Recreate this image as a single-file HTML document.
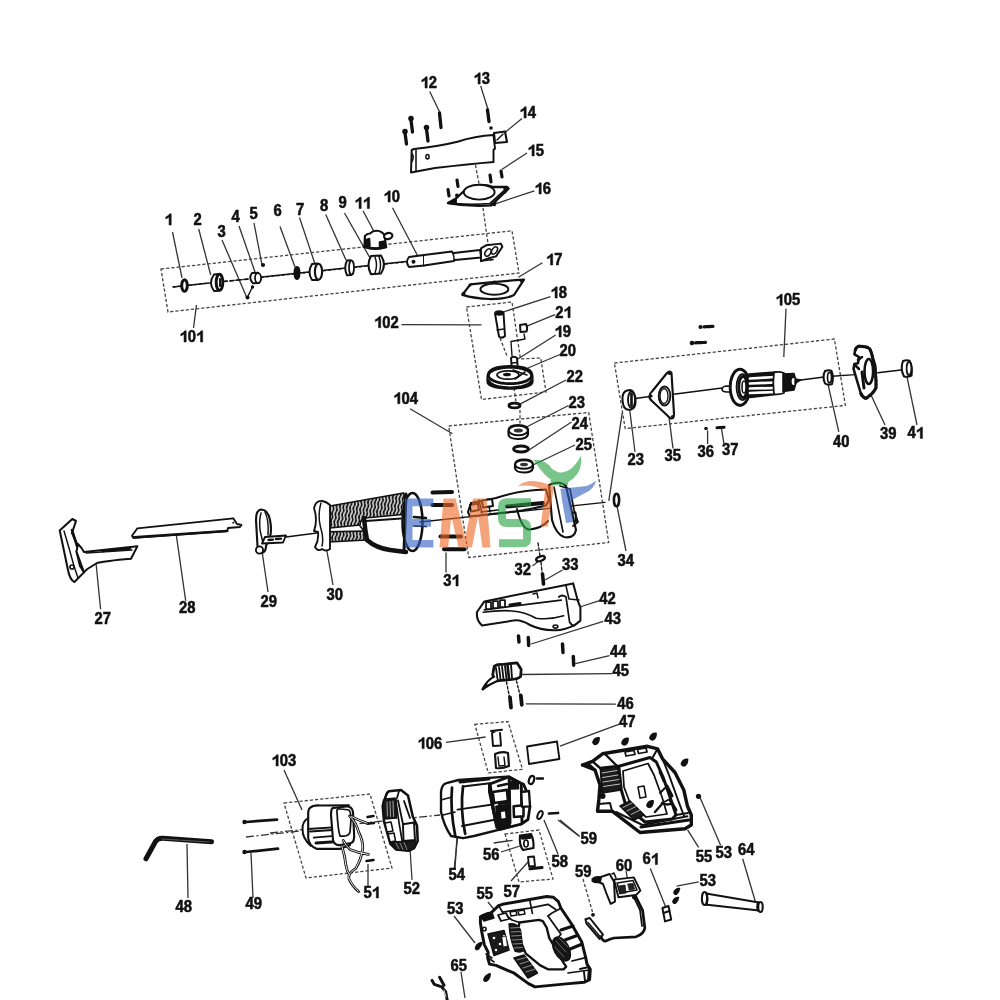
<!DOCTYPE html>
<html><head><meta charset="utf-8"><style>
html,body{margin:0;padding:0;background:#fff;}
svg{display:block;filter:blur(0.3px);}
.lab text{font-family:"Liberation Sans",sans-serif;font-weight:bold;font-size:15.6px;fill:#111;stroke:#111;stroke-width:0.55px;}
.lab path{fill:#111;stroke:#111;stroke-width:0.55px;}
</style></head><body>
<svg width="1000" height="1000" viewBox="0 0 1000 1000">
<rect width="1000" height="1000" fill="#fff"/>
<g stroke="#333" stroke-width="1.3" fill="none">
<line x1="172.5" y1="232" x2="182" y2="278"/>
<line x1="198.7" y1="229" x2="210.7" y2="275"/>
<line x1="222" y1="240" x2="247" y2="298"/>
<line x1="239" y1="226" x2="255" y2="272"/>
<line x1="254" y1="223" x2="262" y2="265"/>
<line x1="280" y1="226.5" x2="295" y2="267"/>
<line x1="299.5" y1="217.5" x2="315" y2="264"/>
<line x1="325.7" y1="214.5" x2="346" y2="260"/>
<line x1="344.5" y1="213" x2="370" y2="258"/>
<line x1="363" y1="210.7" x2="373.7" y2="231"/>
<line x1="392.5" y1="207.7" x2="418" y2="256.5"/>
<line x1="429.7" y1="91.5" x2="439.5" y2="111.7"/>
<line x1="480.7" y1="86" x2="488" y2="109.5"/>
<line x1="522" y1="118.5" x2="505.5" y2="132"/>
<line x1="527" y1="153" x2="501.7" y2="169.5"/>
<line x1="534.4" y1="190.8" x2="496" y2="203.6"/>
<line x1="542.4" y1="262.8" x2="518.4" y2="277.2"/>
<line x1="550.5" y1="296.7" x2="501.7" y2="312.5"/>
<line x1="555" y1="314.7" x2="525.7" y2="326.7"/>
<line x1="555.7" y1="335" x2="516.7" y2="359.7"/>
<line x1="560" y1="354.5" x2="528" y2="368"/>
<line x1="566" y1="380" x2="519" y2="404.7"/>
<line x1="568.5" y1="405.5" x2="526.5" y2="427"/>
<line x1="571.5" y1="422" x2="529" y2="450"/>
<line x1="575" y1="445" x2="533" y2="465"/>
<line x1="193.5" y1="328" x2="196.5" y2="305"/>
<line x1="401.5" y1="324.7" x2="481.5" y2="324.8"/>
<line x1="410" y1="408.7" x2="452.5" y2="433.7"/>
<line x1="786" y1="308.6" x2="783.8" y2="357"/>
<line x1="635" y1="452" x2="629.7" y2="409.7"/>
<line x1="673" y1="448.4" x2="668.4" y2="412.4"/>
<line x1="707.6" y1="444" x2="707.6" y2="430.4"/>
<line x1="724" y1="444" x2="721.5" y2="428.6"/>
<line x1="838.8" y1="431.8" x2="827.8" y2="383.4"/>
<line x1="885" y1="425" x2="869.6" y2="392"/>
<line x1="917" y1="425" x2="907" y2="376.8"/>
<line x1="95.4" y1="556.7" x2="100.6" y2="609.2"/>
<line x1="175.2" y1="527.3" x2="185.7" y2="600.8"/>
<line x1="262" y1="551" x2="268" y2="592"/>
<line x1="326" y1="546" x2="333" y2="585"/>
<line x1="446" y1="572.5" x2="446" y2="552.5"/>
<line x1="532.5" y1="566" x2="540" y2="560"/>
<line x1="562.5" y1="570" x2="545" y2="580"/>
<line x1="617" y1="506" x2="626" y2="551"/>
<line x1="599.6" y1="600.7" x2="579.8" y2="607"/>
<line x1="603.2" y1="621.4" x2="531.2" y2="644"/>
<line x1="609.5" y1="655.6" x2="575.3" y2="663.7"/>
<line x1="612.2" y1="673.6" x2="521.3" y2="674.5"/>
<line x1="615.8" y1="704.2" x2="525.8" y2="703.8"/>
<line x1="619.4" y1="724.2" x2="560" y2="746.2"/>
<line x1="446" y1="742.3" x2="485.6" y2="737"/>
<line x1="284" y1="770" x2="302" y2="810"/>
<line x1="187" y1="844" x2="188" y2="898"/>
<line x1="251" y1="853" x2="253" y2="898"/>
<line x1="368" y1="864" x2="368" y2="886"/>
<line x1="410" y1="848" x2="412" y2="880"/>
<line x1="458" y1="834" x2="454" y2="870"/>
<line x1="501" y1="852" x2="520" y2="846"/>
<line x1="493.7" y1="843" x2="512.6" y2="840.3"/>
<line x1="511" y1="881" x2="528" y2="862"/>
<line x1="558" y1="854" x2="544" y2="820"/>
<line x1="579" y1="836" x2="558" y2="820"/>
<line x1="455" y1="869" x2="457" y2="836"/>
<line x1="454" y1="916" x2="475" y2="943"/>
<line x1="488" y1="902" x2="496" y2="912"/>
<line x1="461" y1="972" x2="465" y2="998"/>
<line x1="626" y1="870.8" x2="628.3" y2="883"/>
<line x1="650.3" y1="868.6" x2="665.7" y2="907"/>
<line x1="698.7" y1="881.8" x2="676.7" y2="886.2"/>
<line x1="742.7" y1="858.7" x2="756" y2="903.8"/>
<line x1="698.6" y1="847.4" x2="687.6" y2="829.8"/>
<line x1="720.6" y1="845.2" x2="699.7" y2="796.8"/>
<line x1="579.8" y1="836.4" x2="560" y2="820"/>
<line x1="622.3" y1="412.6" x2="608.8" y2="500.8"/>
</g>
<g stroke="#444" stroke-width="1.3" fill="none" stroke-dasharray="3.2 2">
<polygon points="161,269 512,230.8 519,273 168,312"/>
<polygon points="466.5,307 512,302 520.5,359 540.7,358 546,392 481.5,399.5"/>
<polygon points="448.7,426 588.7,412.5 608.7,542.5 468.7,557.5"/>
<polygon points="614.4,363 834.4,339 845.4,405.4 625.2,428.6"/>
<polygon points="474.8,724.3 508,721.6 522.5,769.3 488.3,772.9"/>
<polygon points="284,803 370,794 392,868 306,878"/>
<polygon points="505,834 539,830 553,879 519,882"/>
<line x1="475.5" y1="165" x2="480" y2="189"/>
<line x1="483" y1="208" x2="488" y2="243.6"/>
<line x1="488" y1="243.6" x2="491" y2="261"/>
<line x1="494.4" y1="280.4" x2="497.6" y2="301"/>
<line x1="173" y1="287" x2="406" y2="262"/>
<line x1="583" y1="879" x2="592.5" y2="912"/>
<line x1="500" y1="338" x2="507" y2="356"/>
<line x1="514" y1="388" x2="516" y2="402"/>
<line x1="520" y1="410" x2="520" y2="424"/>
<g stroke-dasharray="8 2.5 2 2.5" stroke="#333"><line x1="246" y1="837" x2="300" y2="831"/><line x1="270" y1="833" x2="440" y2="815"/></g>
</g>
<g id="A" stroke="#111" fill="#fff" stroke-width="1.95" stroke-linejoin="round" stroke-linecap="round">
<!-- screws 12 -->
<g stroke-width="3.30">
<line x1="411" y1="120" x2="412.5" y2="132"/><line x1="405" y1="133" x2="406.5" y2="144"/>
<line x1="426.5" y1="129" x2="428" y2="141"/><line x1="439.5" y1="113" x2="441" y2="127.5"/>
<line x1="487.5" y1="110" x2="489" y2="121.5"/>
</g>
<circle cx="491" cy="128" r="1.8" fill="#111" stroke="none"/>
<circle cx="411" cy="118.5" r="2.1" fill="#111" stroke-width="1.35"/><circle cx="405" cy="131.5" r="2.1" fill="#111" stroke-width="1.35"/><circle cx="426.5" cy="127.5" r="2.1" fill="#111" stroke-width="1.35"/>
<!-- bracket 14 -->
<path d="M411.7,150 L414,149 Q440,146 457.5,141.7 Q475,136 493.5,135 L495,148.5 L493.5,150 L493.5,162 Q470,164 435,168 L411,172.5 Z"/>
<line x1="416" y1="150" x2="416" y2="171" stroke-width="1.55"/>
<path d="M411.5,153 Q415,157 411.5,162" stroke-width="1.55" fill="none"/>
<ellipse cx="427.5" cy="156.7" rx="1.6" ry="2.2" stroke-width="1.55"/>
<path d="M494,133 L505,131.5 L507,142 L495,143 Z" stroke-width="2.15"/>
<line x1="497" y1="140" x2="503" y2="134" stroke-width="1.35"/>
<!-- screws 15 -->
<g stroke-width="3.15">
<line x1="501" y1="171" x2="502" y2="177"/><line x1="490" y1="175" x2="491" y2="182"/>
<line x1="457" y1="180" x2="458" y2="186.5"/><line x1="448" y1="189.5" x2="449" y2="196"/>
</g>
<!-- gasket 16 -->
<path d="M448,203 L456,198.5 L464,191 Q470,186.5 480,185 Q488,185 492.8,187 L507.2,187 L508.5,188.6 L491.2,205.4 Q470,207 448,203 Z" stroke-width="2.35"/>
<path d="M455,203.5 Q472,205 490,203.5 L506,189" stroke-width="1.75" fill="none"/>
<ellipse cx="479.2" cy="192.2" rx="15.4" ry="7.4" stroke-width="1.95"/>
<path d="M448,203 L456,199.5 L456,204 Z" fill="#111" stroke-width="1.85"/>
<path d="M504,187.5 L508.5,188.6 L505,193 Z" fill="#111" stroke-width="1.55"/>
<circle cx="457" cy="195.5" r="2" fill="#111" stroke="none"/>
<path d="M491,204.5 L496,201 L495,205.5 Z" fill="#111" stroke-width="1.35"/>
<!-- shaft -->
<line x1="173" y1="287" x2="209" y2="283" stroke-width="1.65"/>
<line x1="223" y1="281.5" x2="249" y2="279" stroke-width="1.65" stroke-dasharray="4 3"/>
<line x1="262" y1="277" x2="406" y2="261.5" stroke-width="1.65"/>
<ellipse cx="184.5" cy="285.5" rx="2.8" ry="5.8" stroke-width="2.95"/>
<!-- 2 bearing -->
<path d="M214,274.5 L219,274 Q223.5,282 219,290.7 L214,291 Q208,283 214,274.5 Z" stroke-width="1.95"/>
<ellipse cx="219.5" cy="282.3" rx="3.3" ry="8" stroke-width="2.95"/>
<line x1="220" y1="279" x2="220" y2="286" stroke-width="1.95"/>
<!-- 3 dots -->
<circle cx="247.5" cy="297.5" r="2" fill="#111" stroke="none"/>
<circle cx="252.5" cy="287" r="1.7" fill="#111" stroke="none"/>
<line x1="247.5" y1="297" x2="252.5" y2="287" stroke-width="1.35"/>
<!-- 4 -->
<path d="M252,273 L258,272.7 Q263,278 259,283 L253,283.3 Q248,278 252,273 Z" stroke-width="1.95"/>
<ellipse cx="258" cy="278" rx="3" ry="5" stroke-width="1.75"/>
<circle cx="263" cy="265" r="2.1" fill="#111" stroke="none"/>
<!-- 6 -->
<ellipse cx="297" cy="273" rx="2.8" ry="6.3" fill="#111" stroke-width="1.35"/>
<!-- 7 -->
<path d="M312,264 L318,263.5 Q323,271.5 318,280 L312,280 Q307,272 312,264 Z" stroke-width="1.95"/>
<ellipse cx="318.5" cy="271.7" rx="3.6" ry="8" stroke-width="2.15"/>
<!-- 8 -->
<path d="M347,260.5 L351,260.3 Q354.5,267.7 351,275 L347,275.3 Q343.5,267.7 347,260.5 Z" stroke-width="1.95"/>
<ellipse cx="351.5" cy="267.7" rx="2.5" ry="7" stroke-width="1.75"/>
<!-- 9 -->
<path d="M371,256 L381,255.5 Q387,264.5 381,273.5 L371,274.3 Q366,265 371,256 Z" stroke-width="2.05"/>
<path d="M375,257 Q378,265 375,273 M379,256.5 Q382,265 379,273.5" stroke-width="1.45" fill="none"/>
<!-- 10 rod -->
<path d="M409,257 L424,255 L424,265.5 L409,267 Q405,262 409,257 Z" stroke-width="1.95"/>
<circle cx="413.5" cy="261.8" r="2" fill="#111" stroke="none"/>
<path d="M424,255 L452,251.5 Q455,256 454,261 L424,265.5" stroke-width="1.95"/>
<path d="M454,253 L480,250 L481,257.5 L455,260" stroke-width="1.85"/>
<path d="M481,248.4 L486.4,245.2 L500.8,243.6 L502.4,246.8 L496,256.4 L489.6,258 L481,261.2 Z" stroke-width="1.95"/>
<ellipse cx="488" cy="252.5" rx="2.6" ry="4" stroke-width="1.55" transform="rotate(35 488 252.5)"/>
<ellipse cx="494.5" cy="250.5" rx="2.4" ry="4" stroke-width="1.55" transform="rotate(35 494.5 250.5)"/>
<path d="M481,261 L493,259.5" stroke-width="1.65" fill="none"/>
<!-- 11 clamp -->
<path d="M364.5,247 L364.9,236 Q367,233.5 370,233.5 Q373,230.5 377,230.8 Q382,231 384.7,235.5 L386,247 Q375,250 364.5,247 Z" stroke-width="2.15"/>
<path d="M365,240 L369.5,238.5 L370,246 L365,247 Z" fill="#111" stroke-width="1.55"/>
<path d="M379.5,242 L385,241 L385.5,247 L379.5,247.5 Z" fill="#111" stroke-width="1.55"/>
<ellipse cx="388.2" cy="236" rx="4.2" ry="3" stroke-width="2.15" transform="rotate(-15 388.2 236)"/>
<path d="M364,246.5 Q375,250.5 386,247" stroke-width="2.75" fill="none"/>
<!-- gasket 17 -->
<path d="M462.4,294.8 L470.4,284.4 Q495,281.5 524,279.6 L514,295 Q507,299 490,299 Q475,298.5 462.4,294.8 Z" stroke-width="2.25"/>
<ellipse cx="494.4" cy="289.2" rx="14" ry="5.6" stroke-width="1.95"/>
<circle cx="463.5" cy="294" r="2" fill="#111" stroke="none"/>
<circle cx="521.5" cy="281" r="1.8" fill="#111" stroke="none"/>
<circle cx="470" cy="285" r="1.6" fill="#111" stroke="none"/>
<!-- 18 pin -->
<path d="M495,313.5 Q499,311 503.5,313 L505,336 Q502,339 499,336.5 Z" stroke-width="1.95"/>
<ellipse cx="499.3" cy="313" rx="4" ry="1.8" fill="#111"/>
<line x1="497" y1="330" x2="504" y2="329" stroke-width="1.45"/>
<!-- 21 nut -->
<path d="M520,325 L526,324 Q528,328 526.5,331.5 L520.5,332 Z" stroke-width="1.95"/>
<path d="M524,334 L525,339 L511,341.5 L512,356" stroke-width="1.35" fill="none"/>
<!-- 19 pin -->
<path d="M511,358 Q514,355.5 517,358 L518,371 L512,372 Z" stroke-width="1.95"/>
<line x1="512" y1="363" x2="517" y2="362.5" stroke-width="1.55"/>
<!-- 20 gear -->
<path d="M487.5,376 Q488,366 510,366 Q532.5,366 532.5,376 L532.5,382 Q532,388.5 510,388.5 Q488,388.5 487.5,382 Z" stroke-width="2.15"/>
<ellipse cx="510" cy="375.5" rx="21.5" ry="8.2" stroke="#111" stroke-width="2.75" fill="none" stroke-dasharray="1.6 0.9"/>
<ellipse cx="508" cy="375" rx="11" ry="4.2" stroke-width="1.75"/>
<ellipse cx="507" cy="374.5" rx="4" ry="1.8" fill="#111" stroke="none"/>
<path d="M488.5,381 Q492,387.5 510,388 Q528,387.5 531.5,381" stroke="#111" stroke-width="3.20" fill="none" stroke-dasharray="1.4 1"/>
<path d="M513,370 L527,375 M515,379 L525,372" stroke-width="1.55" fill="none"/>
<!-- 22 washer -->
<ellipse cx="514.5" cy="405.5" rx="5.5" ry="2.4" stroke-width="2.85"/>
<!-- 23 bearing -->
<path d="M508.5,430.5 Q509,425 518,425 Q528,425 528,430.5 L528,434.5 Q527,439 518,439 Q509,439 508.5,434.5 Z" stroke-width="2.15"/>
<ellipse cx="518.3" cy="430.5" rx="9.5" ry="4.8" stroke-width="1.95"/>
<ellipse cx="518.3" cy="430.5" rx="4.5" ry="2" fill="#333" stroke="none"/>
<!-- 24 washer -->
<ellipse cx="521" cy="449" rx="7.5" ry="3" stroke-width="2.85"/>
<!-- 25 bearing -->
<path d="M515,464.5 Q515.5,459.5 524,459.5 Q532.5,459.5 533,464.5 L533,468 Q532,472.5 524,472.5 Q515.5,472.5 515,468 Z" stroke-width="2.15"/>
<ellipse cx="524" cy="464.5" rx="8.8" ry="4.3" stroke-width="1.95"/>
<ellipse cx="524" cy="464.5" rx="4" ry="1.8" fill="#333" stroke="none"/>
</g>
<g id="D" stroke="#111" fill="#fff" stroke-width="1.95" stroke-linejoin="round" stroke-linecap="round">
<!-- 27 shoe -->
<path d="M72.3,519 L76,521 L72,533 L78,546 Q82,552 84,552 L76.5,551.5 L80,566 L84,572.4 L74.4,582 Q70,580 68,570 L59.7,530.4 Z" stroke-width="2.05"/>
<path d="M64,531 L69,548 L74,566 L78,578" stroke-width="1.45" fill="none"/>
<path d="M72,530 L77,546" stroke-width="2.55" fill="none"/>
<path d="M78,544 Q82,548 84,552 L137.4,546.2 L131,558.8 Q105,561 97,563 L87,569.3 L84,572.4 L76.5,551.5 Z" stroke-width="1.95"/>
<path d="M103,551 L130,548.5" stroke-width="2.75"/>
<line x1="86" y1="553" x2="132" y2="550" stroke-width="1.35"/>
<circle cx="72" cy="567" r="2" stroke-width="1.65"/>
<!-- 28 blade -->
<path d="M132,535.7 L137.4,528.3 L233.3,518.3 L237,524 L241.5,525 L240,527 L228,528 L227.3,531 L133.2,537.8 Z" stroke-width="1.85"/>
<line x1="134" y1="537.3" x2="227" y2="531" stroke-width="2.75"/>
<circle cx="233.3" cy="522.8" r="1" fill="#111" stroke="none"/>
<!-- 29 -->
<path d="M261,509.5 Q256,510 256,520 L257.5,546 Q258,552 262,553 Q266,552 266,546 L270,537 Q272,530 270,520 Q268,509.5 261,509.5 Z" stroke-width="2.15"/>
<path d="M261,513 Q259,520 260,530 L263,543" stroke-width="1.45" fill="none"/>
<path d="M265,512 Q269,520 268,535" stroke-width="1.45" fill="none"/>
<circle cx="259.5" cy="550" r="3.6" stroke-width="1.85"/>
<path d="M265,537 L286,535.5 L283,542.5 L262,543.5 Z" stroke-width="1.85"/>
<line x1="268.5" y1="540" x2="273" y2="539.7" stroke-width="2.35"/>
<line x1="276" y1="539" x2="281" y2="538.6" stroke-width="2.35"/>
<line x1="286" y1="537" x2="317" y2="533" stroke-width="1.35"/>
<!-- 30 handle -->
<defs>
<pattern id="grip" patternUnits="userSpaceOnUse" width="3.4" height="8" patternTransform="rotate(8)">
<rect width="3.4" height="8" fill="#151515"/>
<path d="M1.2,0 Q2.4,2 1.2,4 Q0,6 1.2,8" stroke="#fff" stroke-width="1.50" fill="none" opacity="0.85"/>
</pattern>
</defs>
<path d="M330,506 L403.6,493 L408,514 L365,518 Q360,520 360,525 L330,528 Z" fill="url(#grip)" stroke-width="1.75"/>
<path d="M328,531.8 L364,531 L367,540 L328,542 Z" fill="url(#grip)" stroke-width="1.75"/>
<path d="M364,518 Q365,530 367,540 Q376,548 390,550 L406,552" stroke-width="4.50" fill="none"/>
<path d="M366,521 L401,518.5" stroke-width="1.95" fill="none"/>
<path d="M360,526 L364,531" stroke-width="1.55" fill="none"/>
<path d="M314,508 Q316,500 322.4,501 Q327,502 330,505 L330,549 Q326,552 322,549 Q318,552 315,547 Q319,540 318,532 L314,531 Q318,520 314,508 Z" stroke-width="1.85"/>
<path d="M321,503 Q317.5,515 320.5,527 Q324,538 322,546" stroke-width="1.45" fill="none"/>
<ellipse cx="412.5" cy="522" rx="10" ry="29" stroke-width="2.55" fill="#fff"/>
<line x1="406" y1="494" x2="404" y2="552" stroke-width="3.00" fill="none"/>
<line x1="414" y1="517" x2="426" y2="518" stroke-width="2.55"/>
<line x1="414" y1="526" x2="426" y2="526.5" stroke-width="1.75"/>
<!-- screws 31 -->
<g stroke-width="4.00">
<line x1="432.5" y1="492.5" x2="452" y2="492"/><line x1="432.5" y1="505" x2="452" y2="505"/>
<line x1="440.5" y1="536.6" x2="461" y2="536.6"/><line x1="444" y1="549.2" x2="464.5" y2="549.2"/>
</g>
<!-- mechanism -->
<line x1="420" y1="522" x2="605" y2="502.4" stroke-width="1.35"/>
<path d="M468,512 L471,503 L496,498 Q520,490 546,489.5 L549,500 L546,505.5 Q525,511 505,512.5 L470,516.5 Z" stroke-width="2.05"/>
<path d="M479,500 L482,513 M488,499 L490,512" stroke-width="1.55" fill="none"/>
<path d="M507,506.5 L543,503" stroke-width="4.00" fill="none"/>
<path d="M470,505 L478,503.5 L479,510 L471,511.5 Z M482,500.5 L492,499 L493,506 L483,507.5 Z" stroke-width="1.95"/>
<path d="M481,512 L498,510" stroke-width="1.75" fill="none"/>
<path d="M566.5,513 L575.5,512.5 L576,521.5 L567,522 Z" stroke-width="1.95"/>
<path d="M517,509 Q522,530 530,529.5 Q542,528 548,521" stroke-width="1.95" fill="none"/>
<path d="M549,485 Q560,480 566,486 L576,530 Q574,539 564,537 Q556,534 552,520 Z" stroke-width="2.15"/>
<path d="M554,487 L563,532" stroke-width="1.65" fill="none"/>
<path d="M560,486 L570,489 L574,510 L578,522 L573,526" stroke-width="1.75" fill="none"/>
<!-- 32 33 -->
<ellipse cx="540.5" cy="558.7" rx="4.5" ry="2.2" stroke-width="2.35" transform="rotate(-20 540.5 558.7)"/>
<line x1="542.5" y1="574" x2="543.5" y2="584" stroke-width="3.60" stroke-dasharray="2.2 0.6"/>
<line x1="538" y1="543" x2="540" y2="556" stroke-width="1.35" stroke-dasharray="3 2" fill="none"/>
<line x1="541" y1="562" x2="542" y2="572" stroke-width="1.35" stroke-dasharray="3 2" fill="none"/>
<!-- 34 -->
<ellipse cx="616.5" cy="500" rx="2.6" ry="6.3" stroke-width="2.55"/>
</g>
<g id="E" stroke="#111" fill="#fff" stroke-width="1.95" stroke-linejoin="round" stroke-linecap="round">
<!-- shaft line -->
<line x1="635" y1="398.5" x2="650" y2="396.5" stroke-width="1.45"/>
<line x1="664" y1="395.5" x2="722" y2="388" stroke-width="1.45"/>
<line x1="801" y1="380" x2="824" y2="377" stroke-width="1.45"/>
<line x1="832" y1="376.3" x2="855" y2="374.6" stroke-width="1.45"/>
<line x1="877.8" y1="372.8" x2="901" y2="370" stroke-width="1.45"/>
<!-- 23 right bearing -->
<path d="M627,390.5 Q622,392 622.5,400 Q623,409 628,409.7 L631,409.5 Q636,408 635.5,400 Q635,391 630,390 Z" stroke-width="2.05"/>
<ellipse cx="631.5" cy="399.8" rx="3.5" ry="8.3" stroke-width="1.85"/>
<line x1="631.5" y1="394" x2="631.5" y2="406" stroke-width="2.75" stroke-dasharray="1.5 1"/>
<!-- 35 triangle plate -->
<path d="M649.5,396 Q650,393 652,391.5 L667,373 Q670,370 671.5,373 L674,414 Q674,420 670,418 L652,401 Q649,399 649.5,396 Z" stroke-width="2.15"/>
<ellipse cx="664.5" cy="396" rx="5.8" ry="9.5" stroke-width="1.85"/>
<ellipse cx="664" cy="396" rx="4" ry="7.5" stroke-width="1.35"/>
<circle cx="669.5" cy="373.5" r="1.6" fill="#111" stroke="none"/>
<circle cx="651" cy="396" r="1.6" fill="#111" stroke="none"/>
<circle cx="672.5" cy="416.5" r="1.6" fill="#111" stroke="none"/>
<!-- screws above & 36 37 -->
<g stroke-width="3.20" stroke-dasharray="2 0.7">
<line x1="704" y1="326.8" x2="713" y2="326.4"/><line x1="695.5" y1="342.8" x2="705.5" y2="342.4"/>
</g>
<circle cx="700.5" cy="327" r="2.1" fill="#111" stroke="none"/>
<circle cx="692" cy="343" r="2.3" fill="#111" stroke="none"/>
<circle cx="706" cy="428.5" r="1.8" fill="#111" stroke="none"/>
<line x1="717" y1="427.7" x2="724" y2="427.3" stroke-width="3.15"/>
<!-- armature -->
<path d="M722,389 Q723,386 727,386 L731,386.5 L731,392 L727,392 Q722,392 722,389 Z" stroke-width="1.65"/>
<ellipse cx="740" cy="387.3" rx="9.8" ry="18" fill="#fff" stroke="#111" stroke-width="1.95"/>
<ellipse cx="740" cy="387.3" rx="9.8" ry="18" fill="none" stroke="#111" stroke-width="3.00" stroke-dasharray="1.6 1.4"/>
<ellipse cx="742.5" cy="387" rx="6" ry="13" fill="#fff" stroke="#111" stroke-width="1.75"/>
<ellipse cx="743" cy="387" rx="4.2" ry="10.5" fill="none" stroke="#111" stroke-width="2.95" stroke-dasharray="1.3 1.3"/>
<ellipse cx="744" cy="387" rx="2" ry="6" fill="#fff" stroke="#111" stroke-width="1.55"/>
<path d="M749,374 L776,372 L776,394.5 L750,397.5 Z" fill="#111" stroke-width="1.65"/>
<path d="M750,378.5 L775,377 M750,383.5 L775,382.5 M750,388.5 L775,388 M750,393 L775,392" stroke="#fff" stroke-width="2.75"/>
<path d="M774,372.3 Q779,371 784,373 Q785,383 784,393 Q779,395 774,394 Q772.5,383 774,372.3 Z" stroke-width="1.75"/>
<path d="M783,374 L794,373.5 Q797,382 794,390 L783,391.5 Z" fill="#111" stroke-width="1.55"/>
<ellipse cx="793.5" cy="381.5" rx="2.6" ry="4.2" fill="#fff" stroke-width="1.55"/>
<path d="M795,379 L801,380 L795,383.5 Z" fill="#111" stroke-width="1.35"/>
<!-- 40 -->
<path d="M825,371 Q829,369.5 831.5,371 Q834,377 832,384 Q828,385.5 825,383.5 Q822,377 825,371 Z" stroke-width="2.05"/>
<ellipse cx="829.5" cy="377.5" rx="2" ry="5.2" stroke-width="1.65"/>
<!-- 39 -->
<path d="M855.3,349.8 Q857,346 859.8,346.2 L866,347 Q870,348 870.6,350.7 Q872,354 872.4,357 L875,366 L876,380.4 L876,387.7 Q874,392 870.6,394.8 L866,398.5 Q862,397 860.7,393 L858,384 L853.5,368.7 L854.4,364 L858,363.3 L859,357 L854.4,354.3 Z" stroke-width="2.55"/>
<path d="M855.3,349.8 Q857,346 859.8,346.2 L866,347 Q870,348 870.6,350.7 Q872,354 872.4,357 L875,366 L876,380.4 L876,387.7 Q874,392 870.6,394.8 L866,398.5 Q862,397 860.7,393" stroke-width="3.20" fill="none" stroke-dasharray="2.2 1.8"/>
<ellipse cx="868.8" cy="371.4" rx="4.3" ry="12.5" stroke-width="2.55"/>
<path d="M858,360 L862,357 M856,366 L859,369" stroke-width="2.55" fill="none"/>
<path d="M862,372 L864,388" stroke-width="2.95" fill="none"/>
<!-- 41 -->
<path d="M903,361 Q907,359.8 909.5,360.8 Q913,367 911.5,375.5 Q908,377.5 904,376.5 Q900,369 903,361 Z" stroke-width="2.05"/>
<ellipse cx="909" cy="368.5" rx="2.4" ry="6.6" stroke-width="1.75"/>
</g>
<g id="F" stroke="#111" fill="#fff" stroke-width="1.95" stroke-linejoin="round" stroke-linecap="round">
<!-- 42 -->
<path d="M477,612 L484.4,601.4 L573.2,583.4 L578,601.4 L580.4,607.4 L580.4,620.6 L574.4,625.4 Q562,631 554,630.2 Q540,630 530,625 Q520,619 513.2,620.6 L482,625.4 Q476,620 477,612 Z" stroke-width="2.05"/>
<path d="M483.2,612.2 Q500,610 512,611 Q525,612 536,618.2 Q550,620 563.6,615.8" stroke-width="1.65" fill="none"/>
<path d="M484.4,609.8 L561.2,600.2" stroke-width="1.75" fill="none"/>
<path d="M566,585.8 L569,599 L579,600" stroke-width="1.55" fill="none"/>
<path d="M558.8,597 Q562,594 566,597 L569.6,622 Q572,626 574.4,625.4" stroke-width="1.75" fill="none"/>
<rect x="486" y="602" width="5" height="7" stroke-width="1.75"/>
<rect x="493" y="601" width="5" height="7" stroke-width="1.75"/>
<rect x="500" y="600" width="5" height="7" stroke-width="1.75"/>
<line x1="510" y1="605" x2="520" y2="603.5" stroke-width="3.00"/>
<path d="M533,594 L537,593 L538,598" stroke-width="1.45" fill="none"/>
<ellipse cx="555.5" cy="626.5" rx="2.4" ry="1.6" stroke-width="1.55"/>
<!-- screws 43 44 -->
<g stroke-width="3.50" stroke-dasharray="2.2 0.6">
<line x1="518.5" y1="636" x2="519" y2="642"/><line x1="528.3" y1="637.6" x2="528.7" y2="645.5"/>
<line x1="562.5" y1="644" x2="563" y2="652.5"/><line x1="573.3" y1="656.5" x2="573.7" y2="665.2"/>
</g>
<!-- 45 switch -->
<path d="M494.2,666.4 Q497,664 502,664.5 L517,662.8 L521.2,669.4 L520.6,676.6 Q518,679 512,679.5 L495.4,680.8 Q492,677 493,673 Z" stroke-width="2.75"/>
<path d="M496,668 L497.5,679 M499,667 L500.5,679 M502,666.5 L503.5,679 M505,666 L506.5,679 M511,665 L512,678" stroke-width="1.85" fill="none"/>
<path d="M507.5,665 L509,678.5" stroke-width="2.55" fill="none"/>
<path d="M494.2,676.6 Q487,680 482.8,689.2 Q490,684 497.8,680.8" stroke-width="2.15"/>
<path d="M483,689 L486,684.5" stroke-width="2.95" fill="none"/>
<line x1="506.5" y1="682" x2="509.5" y2="697" stroke-width="1.35" stroke-dasharray="2.5 2"/>
<line x1="516.5" y1="681" x2="520" y2="695" stroke-width="1.35" stroke-dasharray="2.5 2"/>
<g stroke-width="3.80" stroke-dasharray="2.4 0.6">
<line x1="510" y1="697.5" x2="511" y2="707.5"/><line x1="520.8" y1="695.5" x2="521.8" y2="704.8"/>
</g>
<!-- 47 plate -->
<path d="M527,746.5 L557,741.5 L559.4,759 L529,764 Z" stroke-width="1.85"/>
<!-- 106 parts -->
<path d="M491,731 L502,729.8 M496,731 L492,733 L493,746 L501,745.5 L500,733" stroke-width="1.95"/>
<path d="M495,754 Q502,751 508,753 L509,766 Q502,769 496,768 Z" stroke-width="2.15"/>
<path d="M498,757 L499,766 L505,765.5 L504,757" stroke-width="1.45" fill="none"/>
<!-- small parts near 54 -->
<ellipse cx="531.5" cy="780" rx="2.5" ry="4.2" stroke-width="2.15" transform="rotate(20 531.5 780)"/>
<path d="M537,778.5 L543,778.5" stroke-width="2.35" stroke-dasharray="1.5 1"/>
<ellipse cx="540" cy="815" rx="2.2" ry="4.2" stroke-width="1.95" transform="rotate(25 540 815)"/>
<line x1="549" y1="813.5" x2="558" y2="813" stroke-width="2.75"/>
</g>
<g id="G" stroke="#111" fill="#fff" stroke-width="1.95" stroke-linejoin="round" stroke-linecap="round">
<!-- 54 motor housing -->
<path d="M441,792 Q442,784 446.5,783.2 L458.6,780 L507,776.6 L511.4,777.7 L523.5,784.3 L526.8,792 L529,806.3 L526.8,819.5 L521.3,824 L500.4,829.4 L474,836 L463,838.2 L451,836 Q444,826 441,811.8 Z" stroke-width="2.35"/>
<path d="M452,787.6 Q450,810 455.3,836 M463,786.5 Q460,810 465.2,833.8" stroke-width="2.75" fill="none"/>
<path d="M441,800 L452,797 M443,815 L455,812" stroke-width="1.55" fill="none"/>
<path d="M457.5,809.6 L496,804 M462,826 L496,819.5 M463,786.5 L500,782" stroke-width="1.95" fill="none"/>
<path d="M489.4,784.3 L509.2,776.6 L513.6,781 L523.5,784.3 L526.8,792 L530,806.3 L528,819.5 L521.3,824 L500.4,829.4 L496,822.8 L489.4,792 Z" fill="#fff" stroke-width="2.75"/>
<path d="M490,785.4 Q492,806 497,827.2" stroke-width="3.50" fill="none"/>
<path d="M492.7,792 L507,789.8 L508,801 L494,803 Z" stroke-width="2.75"/>
<path d="M496,806.3 L509,804.5 L510,826 L498,828 Z" fill="#111" stroke-width="1.85"/>
<path d="M501,812 L505,811.5 L505.5,818 L501.5,818.5 Z" fill="#fff" stroke="none"/>
<path d="M509.2,779 L510,823 M521.3,785 L522,822" stroke-width="2.95" fill="none"/>
<path d="M510.3,782 L518,781.5 L518.5,788.7 L510.8,789 Z" fill="#111" stroke-width="1.55"/>
<path d="M513.6,806.3 L523.5,805.3 L523.5,816.2 L514,817 Z" stroke-width="2.55"/>
<path d="M521.3,792 L529,791 L530,806.3 L522,806.8 Z" stroke-width="2.35"/>
<path d="M498,786 L507,784 M499,804 L508,802.5" stroke-width="2.35" fill="none"/>
<path d="M460,782 L489,779" stroke-width="3.00" fill="none" stroke-dasharray="2 1.5"/>
<!-- 55 top-right housing -->
<path d="M582.5,765 L592.5,761.3 L602.5,753.8 L647.5,746.3 L657.5,748.8 L662.5,758.8 L675,772.5 L683.8,790 L687.5,806.3 L691.3,815 L691.3,825 L685,828.8 L640,832.5 L612.5,811.3 L597.5,811.3 L598.8,800 L600,785 L595,770 Z" stroke-width="3.40"/>
<path d="M618.8,766.3 L650,757.5 L656.3,762 L663,777 L670,797 L676,815 L672,819 L645,822 L626,806 L621.3,790 Z" stroke-width="3.00"/>
<path d="M623,771 L648,763.5 L654,775 L662,797 L667,814 L646,817 L630,803 L624,787 Z" stroke-width="1.75" fill="none"/>
<path d="M662.5,758.8 L669,775 L678,800 L684,816 M657.5,748.8 L653,757" stroke-width="1.95" fill="none"/>
<path d="M612.5,811.3 L626,822 L640,832.5 M616,812 L642.5,825 L687.5,816.3" stroke-width="1.95" fill="none"/>
<path d="M605,754 L617,766 M592.5,761.3 L600,768 L618,766" stroke-width="2.35" fill="none"/>
<path d="M625,752 L634,750.5 L635,754.5 L626,756 Z M637.5,749.5 L646,748 L647,752 L638.5,753.5 Z" stroke-width="1.75"/>
<path d="M600.5,769 L617,766.5 L621,790 L602,793 Z" fill="#1c1c1c" stroke-width="1.75"/>
<path d="M602,773 L617,770.5 M602.5,777.5 L618,775 M603,782 L619,779.5 M603.5,786.5 L620,784" stroke="#fff" stroke-width="0.90" opacity="0.8"/>
<circle cx="602.5" cy="796" r="3" fill="#111" stroke="none"/>
<path d="M599,804 L610,803 L612,811" stroke-width="1.95" fill="none"/>
<path d="M620,806 L630,801 L644,815 L634,820 Z" fill="#1c1c1c" stroke-width="1.65"/>
<path d="M623,807.5 L632,803 M627,811 L636,806.5 M631,814.5 L640,810" stroke="#fff" stroke-width="0.80" opacity="0.8"/>
<path d="M676,815 L688,813 M660,793 L665,788 M664,802 L670,799" stroke-width="1.95" fill="none"/>
<path d="M582.5,765 L590,765.5 L595,770" stroke-width="3.00" fill="none"/>
<path d="M638,787 L644,786 L646,797 L640,798 Z" stroke-width="1.55"/>
<path d="M641,827 L689,820" stroke-width="3.20" fill="none"/>
<path d="M660,772 L664,781 M667,786 L672,796 M670,800 L676,810" stroke-width="2.95" fill="none"/>
<path d="M662,803 Q668,806 672,803" stroke-width="2.35" fill="none"/>
<path d="M655,812 L662,804" stroke-width="2.35" fill="none"/>
<!-- teardrop screws 53 -->
<g fill="#111" stroke="none">
<path d="M593,742.5 Q594,738.5 598,738 L599,738 Q599,742 596.5,744 Q594,745 593,742.5 Z" stroke="#111" stroke-width="1.85"/>
<path d="M622,743 Q623,739 627,738.5 L628,738.5 Q628,742.5 625.5,744.5 Q623,745.5 622,743 Z" stroke="#111" stroke-width="1.85"/>
<path d="M650,738 Q651,734 655,733.5 L656,733.5 Q656,737.5 653.5,739.5 Q651,740.5 650,738 Z" stroke="#111" stroke-width="1.85"/>
<path d="M681.5,764 Q682.5,760 686.5,759.5 L687.5,759.5 Q687.5,763.5 685,765.5 Q682.5,766.5 681.5,764 Z" stroke="#111" stroke-width="1.85"/>
<circle cx="698.5" cy="796.3" r="2.6"/>
<path d="M647,805.5 Q648,801.5 652,801 L653,801 Q653,805 650.5,807 Q648,808 647,805.5 Z" stroke="#111" stroke-width="1.85"/>
</g>
</g>
<g id="H" stroke="#111" fill="#fff" stroke-width="1.95" stroke-linejoin="round" stroke-linecap="round">
<!-- 48 hex key -->
<path d="M146,858.8 L155.5,841.5 Q158,838 163,838.3 L211.5,841.8" stroke-width="5.00" fill="none"/>
<path d="M162,839 L209,842" stroke="#777" stroke-width="0.70" fill="none"/>
<!-- 49 screws -->
<line x1="246" y1="822" x2="277" y2="819.7" stroke-width="2.75"/>
<line x1="246" y1="852" x2="278" y2="848.7" stroke-width="2.75"/>
<circle cx="244.5" cy="822" r="2.2" fill="#111" stroke="none"/>
<circle cx="244.5" cy="852" r="2.2" fill="#111" stroke="none"/>
<!-- 103 field -->
<path d="M308.2,818 Q302,822 302.6,829 Q302,838 311,846" stroke-width="1.95"/>
<path d="M309.6,808.2 Q313,805 320,805.5 L348.8,805.4 L350,845 L340.4,848.8 L316.6,848.8 Q309,846 308.2,838 L308.2,815.2 Q308,810 309.6,808.2 Z" stroke-width="2.15"/>
<path d="M308,829 L348.8,826.4 M313.8,837.6 L346,834.8 M310,831.5 L348,829" stroke-width="1.85" fill="none"/>
<path d="M316,843 L346,841" stroke-width="2.95" fill="none"/>
<path d="M334,808 Q331,807 331,815 L333,840 Q335,846 340,845 L351,843 Q355,842 354,832 L353,812 Q352,806 346,806.5 Z" stroke-width="2.15"/>
<path d="M337,812 Q336,808 341,809 L349,810 Q351,812 351,820 L350,832 Q349,836 344,836 L340,836 Q338,830 337,812 Z" stroke-width="1.75"/>
<path id="wires" d="M351.6,816.6 Q360,821 368,823.6 M349.5,816 Q356,822 358.6,832 Q363,840 362.8,848.8 Q361,860 355.8,868.4 Q347,874 349,879 Q352,886 358.6,891.5 M343.2,840.4 Q346,846 350,849.5 Q358,853 368.4,854.4 M341.8,846 Q345,856 346,865.6 Q347,871 348.8,874" stroke="#111" stroke-width="2.75" fill="none"/>
<path d="M351.6,816.6 Q360,821 368,823.6 M349.5,816 Q356,822 358.6,832 Q363,840 362.8,848.8 Q361,860 355.8,868.4 Q347,874 349,879 Q352,886 358.6,891.5 M343.2,840.4 Q346,846 350,849.5 Q358,853 368.4,854.4 M341.8,846 Q345,856 346,865.6 Q347,871 348.8,874" stroke="#fff" stroke-width="0.90" fill="none"/>
<g stroke-width="2.55">
<line x1="367.5" y1="817" x2="373.5" y2="816"/><line x1="368.5" y1="823.6" x2="374" y2="823"/><line x1="366.5" y1="861" x2="373.5" y2="860"/>
</g>
<!-- 52 -->
<path d="M385.5,797 Q387,792 389,791.3 L401,790 L408,795.5 L412.8,816.5 L417,825.6 L417.7,841 L414.2,848 L408.6,850.8 L396,849.4 L390.4,843.8 L384,821.4 L382.7,806 Z" stroke-width="2.55"/>
<path d="M383.5,800 L396,799.5 L396.5,818 L384.5,819 Q382.5,810 383.5,800 Z" fill="#1a1a1a" stroke-width="1.75"/>
<path d="M387,802 L387.5,816 M390,801.5 L390.5,816.5 M393,801 L393.5,816.5" stroke="#fff" stroke-width="0.80" opacity="0.75"/>
<path d="M385.5,799 L397,798 L399,791" stroke-width="1.75" fill="none"/>
<path d="M398,800.4 L403,824.2 M404,801 L410,818" stroke-width="1.85" fill="none"/>
<path d="M396,802 Q399,824 402.5,843" stroke-width="1.75" fill="none"/>
<path d="M403,824.2 L414,822.5 L415,840 L403.5,841 Z" stroke-width="1.95"/>
<path d="M385,823 L391,822 L393,831 L387,832 Z M388,834 L394,833 L395.5,841 L390,842 Z" stroke-width="1.55"/>
<path d="M391,842 L416,841 L414.2,848 L408.6,850.8 L396,849.4 Z" fill="#1a1a1a" stroke-width="1.65"/>
<path d="M396,843 L399,849 M400,843 L403,849.5 M404,842.5 L407,849.5" stroke="#fff" stroke-width="0.80" opacity="0.6"/>
<!-- 56 57 -->
<path d="M520,835.5 L531,834 Q534,840 533.5,848 L523,850 Q519,845 520,835.5 Z" stroke-width="2.15"/>
<path d="M521,836 L530,835 L531,838 L522,839 Z" fill="#111" stroke-width="1.35"/>
<ellipse cx="526" cy="843.5" rx="2.2" ry="3.5" stroke-width="1.65"/>
<path d="M528,857 L534,856.5 L535,866 L529,866.5 Z" stroke-width="1.85"/>
<line x1="530" y1="868.8" x2="542" y2="867.5" stroke-width="3.15"/>
</g>
<g id="I" stroke="#111" fill="#fff" stroke-width="1.95" stroke-linejoin="round" stroke-linecap="round">
<!-- 55 bottom housing -->
<path d="M480.4,916.7 L483,915.4 L489.5,914 L492,912 L498.6,905.6 L502.5,904.3 L546.7,896.5 L553.2,897.2 L558.4,901.7 L561,908.2 L571.4,923.8 L581.8,942 L585.7,957.6 L587,964.1 L590.3,969.3 L589.6,979.7 L584.4,982.3 L568.8,983.6 L535,986.9 L528.5,983.6 L514.2,973.2 L496,965.4 L489.5,964.1 L487.6,957.6 L488.2,952.4 L484.3,944.6 L481.7,931.6 L480.4,922.5 Z" stroke-width="2.95"/>
<path d="M519.4,922.5 L538.9,919.9 L542.8,921.2 L546.7,927.7 L549.3,938.1 L553.2,944.6 L563.6,962.8 L566.2,966.7 L563.6,969.3 L548,969.3 L540.2,965.4 L525.9,953.7 L520.7,942 L518.1,930.3 Z" stroke-width="2.35"/>
<!-- top rail -->
<path d="M502.5,912 L529.8,908.2 L548,904.3 L555.8,909.5" stroke-width="1.75" fill="none"/>
<path d="M529.8,900.4 L532.4,913.4" stroke-width="1.65" fill="none"/>
<path d="M498.6,905.6 L503,913 L512,920 L519.4,922.5" stroke-width="1.75" fill="none"/>
<path d="M548,916 L561,934.2 L556,940" stroke-width="1.75" fill="none"/>
<path d="M561,908.2 L552,913 L548,916" stroke-width="1.65" fill="none"/>
<!-- right stripes -->
<path d="M561,930 L573,926 M565,940 L577,935.5 M569,949.5 L581,944.5" stroke-width="3.15" fill="none"/>
<path d="M572,961 L585.7,957.6 M568,973 L589.6,970" stroke-width="1.75" fill="none"/>
<!-- dark grip right -->
<ellipse cx="561.5" cy="949" rx="7.5" ry="13" transform="rotate(-28 561.5 949)" fill="#161616" stroke-width="1.35"/>
<path d="M556,941 L566,952 M555,947 L564,957 M559,938 L568,947" stroke="#fff" stroke-width="0.60" opacity="0.6"/>
<!-- left grip dark -->
<path d="M509,924 Q517,922 520.5,930 L523.3,951 Q520,953 515,951 Q510,940 509,924 Z" fill="#161616" stroke-width="1.35"/>
<path d="M510.5,928 L519.5,927.5 M511,932 L520.5,931.5 M511.5,936 L521,935.5 M512,940 L521.5,939.5 M513,944 L522,943.5 M514,948 L522.5,947.5" stroke="#fff" stroke-width="0.70" opacity="0.7"/>
<!-- left panel -->
<path d="M488,934 L504,930.5 L509,950 L494,955.5 Z" fill="#1a1a1a" stroke-width="1.55"/>
<circle cx="494" cy="938" r="1.3" fill="#fff" stroke="none"/><circle cx="500" cy="944" r="1.3" fill="#fff" stroke="none"/>
<circle cx="496" cy="950" r="1.2" fill="#fff" stroke="none"/><circle cx="504" cy="936" r="1.1" fill="#fff" stroke="none"/>
<path d="M502,937 L506,936 L507.5,946 L503.5,947 Z" fill="#fff" stroke-width="0.80"/>
<!-- bottom grille -->
<path d="M514,958 L524,955 L537.5,973 L528,978 Z" fill="#1a1a1a" stroke-width="1.55"/>
<path d="M517,960 L526,957.5 M520,964 L529,961 M523,968 L532,965 M526,972 L535,969" stroke="#fff" stroke-width="0.70" opacity="0.7"/>
<!-- top-left front -->
<path d="M481,917 Q485,912 492,912.5 L494,918 L484,921 Z" fill="#111" stroke-width="1.35"/>
<circle cx="484.3" cy="929" r="1.8" stroke-width="1.55"/>
<path d="M498,915 L506,913 L509,919 L501,921 Z" stroke-width="1.75"/>
<path d="M510,912 L516,911 L517,915 L511,916 Z M518,911 L524,910 L525,914 L519,915 Z" stroke-width="1.45"/>
<path d="M488.5,958 L494,962 M486,954 L492,958" stroke-width="1.55" fill="none"/>
<path d="M580,969 L589,967 L588,980 M584,972 L585,981" stroke-width="1.95" fill="none"/>
<!-- screws 53 bottom (teardrops) -->
<path d="M475.5,948.5 Q476,944.5 480,943 L482,942.5 Q481.5,946 478.5,949 Q476.5,950.5 475.5,948.5 Z" fill="#111" stroke-width="1.55"/>
<path d="M484,980 Q484.5,976 488.5,974.5 L490,974 Q490,978 487,980.5 Q485,982 484,980 Z" fill="#111" stroke-width="1.85"/>
<!-- 65 wire -->
<path d="M432,980.4 L434.4,984.4 L441.6,986.8 L445.6,991.6 L447.2,1000 M439.6,977.2 L444,985.2" stroke-width="2.95" fill="none"/>
<path d="M444,990 L446,997" stroke="#fff" stroke-width="0.80" fill="none"/>
<!-- 59 terminal + wire + 60 switch -->
<circle cx="593" cy="914.8" r="1.9" fill="#111" stroke="none"/>
<path d="M585.4,919.2 L589.8,918 L603,934.6 L599.7,939 L586.5,923.6 Z" stroke-width="1.95"/>
<line x1="588" y1="922.5" x2="600" y2="936.5" stroke-width="1.45"/>
<path d="M600.8,936.8 Q603,941 605.2,941.2 Q610,939 614,938 L636,936.8 Q644,934 644.8,928 L642.6,910.4 L636,897" stroke-width="2.75" fill="none"/>
<path d="M633.8,897.2 L640,910 L642,926" stroke-width="1.75" fill="none"/>
<path d="M593,879.6 L609.6,874 L614,881.8 L615,901.6 L610.7,903.8 Q606,893 603,884 Z" stroke-width="1.95"/>
<path d="M592.5,879 Q596,876 601,877.5 L600,882 Q595,883 592.5,881 Z" fill="#111" stroke-width="1.95"/>
<path d="M614,879.6 L633.8,877.4 L640.4,890.6 L636,895 L618.4,897.2 Z" stroke-width="1.95"/>
<path d="M617,883 L633,880.5 L637,890 L620,893 Z" stroke-width="1.55"/>
<path d="M619,886 L625,885 L626,893 L620,894 Z" fill="#222" stroke-width="0.80"/>
<path d="M628,884 L633,883.5 L634.5,889 L629.5,890 Z" fill="#222" stroke-width="0.80"/>
<circle cx="634.5" cy="897" r="2.5" fill="#111" stroke="none"/>
<path d="M612,874 L614,873 L616,878" stroke-width="1.55" fill="none"/>
<!-- 61 -->
<path d="M662.4,908 L668.5,906 L671.2,919.5 L665,921.4 Z" stroke-width="1.95"/>
<path d="M663.5,913 L669.5,911" stroke-width="1.95" fill="none"/>
<!-- 53 screws right (teardrops) -->
<path d="M674,892.5 Q675,889 678.5,888.5 L679.5,888.5 Q679,892 676.5,894 Q674.5,895 674,892.5 Z" fill="#111" stroke-width="1.65"/>
<path d="M673,901.5 Q674,898 677.5,897.5 L678.5,897.5 Q678,901 675.5,903 Q673.5,904 673,901.5 Z" fill="#111" stroke-width="1.65"/>
<!-- 64 pin -->
<path d="M706,893.5 L759,902.5 L759,910.5 L705,904.5 Z" stroke-width="1.95"/>
<ellipse cx="704.5" cy="898.5" rx="2.6" ry="6.5" stroke-width="2.05"/>
<path d="M706.5,892.5 Q709,898.5 706.5,905" stroke-width="1.55" fill="none"/>
<ellipse cx="760.5" cy="907" rx="2.2" ry="5" stroke-width="2.05"/>
<path d="M758,902 Q756,906.5 758,911" stroke-width="1.55" fill="none"/>
</g>

<g class="lab">
<g transform="translate(164.60,0) scale(0.95,1) translate(-164.60,0)"><path d="M169.28,225.00 L171.54,225.00 L171.54,213.83 L169.98,213.83 Q168.81,216.01 165.85,216.95 L165.85,218.90 Q168.03,218.20 169.28,216.95 Z"/></g>
<g transform="translate(193.60,0) scale(0.95,1) translate(-193.60,0)"><text x="193.60" y="225">2</text></g>
<g transform="translate(217.60,0) scale(0.95,1) translate(-217.60,0)"><text x="217.60" y="237">3</text></g>
<g transform="translate(231.60,0) scale(0.95,1) translate(-231.60,0)"><text x="231.60" y="222">4</text></g>
<g transform="translate(249.60,0) scale(0.95,1) translate(-249.60,0)"><text x="249.60" y="219">5</text></g>
<g transform="translate(273.60,0) scale(0.95,1) translate(-273.60,0)"><text x="273.60" y="216">6</text></g>
<g transform="translate(296.10,0) scale(0.95,1) translate(-296.10,0)"><text x="296.10" y="215">7</text></g>
<g transform="translate(320.10,0) scale(0.95,1) translate(-320.10,0)"><text x="320.10" y="211.5">8</text></g>
<g transform="translate(338.60,0) scale(0.95,1) translate(-338.60,0)"><text x="338.60" y="207.7">9</text></g>
<g transform="translate(354.60,0) scale(0.95,1) translate(-354.60,0)"><path d="M359.28,208.50 L361.54,208.50 L361.54,197.33 L359.98,197.33 Q358.81,199.51 355.85,200.45 L355.85,202.40 Q358.03,201.70 359.28,200.45 Z"/><path d="M367.95,208.50 L370.22,208.50 L370.22,197.33 L368.66,197.33 Q367.49,199.51 364.52,200.45 L364.52,202.40 Q366.71,201.70 367.95,200.45 Z"/></g>
<g transform="translate(383.60,0) scale(0.95,1) translate(-383.60,0)"><path d="M388.28,202.00 L390.54,202.00 L390.54,190.83 L388.98,190.83 Q387.81,193.01 384.85,193.95 L384.85,195.90 Q387.03,195.20 388.28,193.95 Z"/><text x="392.27" y="202">0</text></g>
<g transform="translate(420.60,0) scale(0.95,1) translate(-420.60,0)"><path d="M425.28,88.00 L427.54,88.00 L427.54,76.83 L425.98,76.83 Q424.81,79.01 421.85,79.95 L421.85,81.90 Q424.03,81.20 425.28,79.95 Z"/><text x="429.27" y="88">2</text></g>
<g transform="translate(473.60,0) scale(0.95,1) translate(-473.60,0)"><path d="M478.28,84.00 L480.54,84.00 L480.54,72.83 L478.98,72.83 Q477.81,75.01 474.85,75.95 L474.85,77.90 Q477.03,77.20 478.28,75.95 Z"/><text x="482.27" y="84">3</text></g>
<g transform="translate(519.60,0) scale(0.95,1) translate(-519.60,0)"><path d="M524.28,118.00 L526.54,118.00 L526.54,106.83 L524.98,106.83 Q523.81,109.01 520.85,109.95 L520.85,111.90 Q523.03,111.20 524.28,109.95 Z"/><text x="528.27" y="118">4</text></g>
<g transform="translate(527.60,0) scale(0.95,1) translate(-527.60,0)"><path d="M532.28,156.00 L534.54,156.00 L534.54,144.83 L532.98,144.83 Q531.81,147.01 528.85,147.95 L528.85,149.90 Q531.03,149.20 532.28,147.95 Z"/><text x="536.27" y="156">5</text></g>
<g transform="translate(534.60,0) scale(0.95,1) translate(-534.60,0)"><path d="M539.28,194.00 L541.54,194.00 L541.54,182.83 L539.98,182.83 Q538.81,185.01 535.85,185.95 L535.85,187.90 Q538.03,187.20 539.28,185.95 Z"/><text x="543.27" y="194">6</text></g>
<g transform="translate(546.10,0) scale(0.95,1) translate(-546.10,0)"><path d="M550.78,265.00 L553.04,265.00 L553.04,253.83 L551.48,253.83 Q550.31,256.01 547.35,256.95 L547.35,258.90 Q549.53,258.20 550.78,256.95 Z"/><text x="554.77" y="265">7</text></g>
<g transform="translate(550.60,0) scale(0.95,1) translate(-550.60,0)"><path d="M555.28,298.00 L557.54,298.00 L557.54,286.83 L555.98,286.83 Q554.81,289.01 551.85,289.95 L551.85,291.90 Q554.03,291.20 555.28,289.95 Z"/><text x="559.27" y="298">8</text></g>
<g transform="translate(555.30,0) scale(0.95,1) translate(-555.30,0)"><text x="555.30" y="317.7">2</text><path d="M568.65,317.70 L570.92,317.70 L570.92,306.53 L569.36,306.53 Q568.19,308.71 565.22,309.65 L565.22,311.60 Q567.41,310.90 568.65,309.65 Z"/></g>
<g transform="translate(554.60,0) scale(0.95,1) translate(-554.60,0)"><path d="M559.28,337.00 L561.54,337.00 L561.54,325.83 L559.98,325.83 Q558.81,328.01 555.85,328.95 L555.85,330.90 Q558.03,330.20 559.28,328.95 Z"/><text x="563.27" y="337">9</text></g>
<g transform="translate(559.60,0) scale(0.95,1) translate(-559.60,0)"><text x="559.60" y="356">2</text><text x="568.27" y="356">0</text></g>
<g transform="translate(566.60,0) scale(0.95,1) translate(-566.60,0)"><text x="566.60" y="382">2</text><text x="575.27" y="382">2</text></g>
<g transform="translate(568.60,0) scale(0.95,1) translate(-568.60,0)"><text x="568.60" y="407.7">2</text><text x="577.27" y="407.7">3</text></g>
<g transform="translate(571.60,0) scale(0.95,1) translate(-571.60,0)"><text x="571.60" y="428.7">2</text><text x="580.27" y="428.7">4</text></g>
<g transform="translate(575.60,0) scale(0.95,1) translate(-575.60,0)"><text x="575.60" y="450">2</text><text x="584.27" y="450">5</text></g>
<g transform="translate(179.60,0) scale(0.95,1) translate(-179.60,0)"><path d="M184.28,342.00 L186.54,342.00 L186.54,330.83 L184.98,330.83 Q183.81,333.01 180.85,333.95 L180.85,335.90 Q183.03,335.20 184.28,333.95 Z"/><text x="188.27" y="342">0</text><path d="M201.63,342.00 L203.89,342.00 L203.89,330.83 L202.33,330.83 Q201.16,333.01 198.20,333.95 L198.20,335.90 Q200.38,335.20 201.63,333.95 Z"/></g>
<g transform="translate(374.10,0) scale(0.95,1) translate(-374.10,0)"><path d="M378.78,327.70 L381.04,327.70 L381.04,316.53 L379.48,316.53 Q378.31,318.71 375.35,319.65 L375.35,321.60 Q377.53,320.90 378.78,319.65 Z"/><text x="382.77" y="327.7">0</text><text x="391.45" y="327.7">2</text></g>
<g transform="translate(393.30,0) scale(0.95,1) translate(-393.30,0)"><path d="M397.98,403.70 L400.24,403.70 L400.24,392.53 L398.68,392.53 Q397.51,394.71 394.55,395.65 L394.55,397.60 Q396.73,396.90 397.98,395.65 Z"/><text x="401.97" y="403.7">0</text><text x="410.65" y="403.7">4</text></g>
<g transform="translate(775.60,0) scale(0.95,1) translate(-775.60,0)"><path d="M780.28,305.30 L782.54,305.30 L782.54,294.13 L780.98,294.13 Q779.81,296.31 776.85,297.25 L776.85,299.20 Q779.03,298.50 780.28,297.25 Z"/><text x="784.27" y="305.3">0</text><text x="792.95" y="305.3">5</text></g>
<g transform="translate(627.60,0) scale(0.95,1) translate(-627.60,0)"><text x="627.60" y="464.6">2</text><text x="636.27" y="464.6">3</text></g>
<g transform="translate(664.40,0) scale(0.95,1) translate(-664.40,0)"><text x="664.40" y="461">3</text><text x="673.07" y="461">5</text></g>
<g transform="translate(697.60,0) scale(0.95,1) translate(-697.60,0)"><text x="697.60" y="457.4">3</text><text x="706.27" y="457.4">6</text></g>
<g transform="translate(722.00,0) scale(0.95,1) translate(-722.00,0)"><text x="722.00" y="454.7">3</text><text x="730.67" y="454.7">7</text></g>
<g transform="translate(832.90,0) scale(0.95,1) translate(-832.90,0)"><text x="832.90" y="447">4</text><text x="841.57" y="447">0</text></g>
<g transform="translate(880.10,0) scale(0.95,1) translate(-880.10,0)"><text x="880.10" y="439.5">3</text><text x="888.77" y="439.5">9</text></g>
<g transform="translate(907.60,0) scale(0.95,1) translate(-907.60,0)"><text x="907.60" y="438.4">4</text><path d="M920.95,438.40 L923.22,438.40 L923.22,427.23 L921.66,427.23 Q920.49,429.41 917.52,430.35 L917.52,432.30 Q919.71,431.60 920.95,430.35 Z"/></g>
<g transform="translate(94.60,0) scale(0.95,1) translate(-94.60,0)"><text x="94.60" y="624">2</text><text x="103.27" y="624">7</text></g>
<g transform="translate(178.90,0) scale(0.95,1) translate(-178.90,0)"><text x="178.90" y="613.4">2</text><text x="187.57" y="613.4">8</text></g>
<g transform="translate(260.60,0) scale(0.95,1) translate(-260.60,0)"><text x="260.60" y="607">2</text><text x="269.27" y="607">9</text></g>
<g transform="translate(326.60,0) scale(0.95,1) translate(-326.60,0)"><text x="326.60" y="600">3</text><text x="335.27" y="600">0</text></g>
<g transform="translate(443.30,0) scale(0.95,1) translate(-443.30,0)"><text x="443.30" y="586">3</text><path d="M456.65,586.00 L458.92,586.00 L458.92,574.83 L457.36,574.83 Q456.19,577.01 453.22,577.95 L453.22,579.90 Q455.41,579.20 456.65,577.95 Z"/></g>
<g transform="translate(514.60,0) scale(0.95,1) translate(-514.60,0)"><text x="514.60" y="575">3</text><text x="523.27" y="575">2</text></g>
<g transform="translate(562.10,0) scale(0.95,1) translate(-562.10,0)"><text x="562.10" y="570">3</text><text x="570.77" y="570">3</text></g>
<g transform="translate(617.40,0) scale(0.95,1) translate(-617.40,0)"><text x="617.40" y="565.6">3</text><text x="626.07" y="565.6">4</text></g>
<g transform="translate(599.20,0) scale(0.95,1) translate(-599.20,0)"><text x="599.20" y="604.3">4</text><text x="607.87" y="604.3">2</text></g>
<g transform="translate(604.60,0) scale(0.95,1) translate(-604.60,0)"><text x="604.60" y="624.1">4</text><text x="613.27" y="624.1">3</text></g>
<g transform="translate(610.00,0) scale(0.95,1) translate(-610.00,0)"><text x="610.00" y="657.4">4</text><text x="618.67" y="657.4">4</text></g>
<g transform="translate(612.60,0) scale(0.95,1) translate(-612.60,0)"><text x="612.60" y="676.3">4</text><text x="621.27" y="676.3">5</text></g>
<g transform="translate(617.20,0) scale(0.95,1) translate(-617.20,0)"><text x="617.20" y="708.7">4</text><text x="625.87" y="708.7">6</text></g>
<g transform="translate(619.00,0) scale(0.95,1) translate(-619.00,0)"><text x="619.00" y="727.5">4</text><text x="627.67" y="727.5">7</text></g>
<g transform="translate(417.60,0) scale(0.95,1) translate(-417.60,0)"><path d="M422.28,748.60 L424.54,748.60 L424.54,737.43 L422.98,737.43 Q421.81,739.61 418.85,740.55 L418.85,742.50 Q421.03,741.80 422.28,740.55 Z"/><text x="426.27" y="748.6">0</text><text x="434.95" y="748.6">6</text></g>
<g transform="translate(271.60,0) scale(0.95,1) translate(-271.60,0)"><path d="M276.28,766.00 L278.54,766.00 L278.54,754.83 L276.98,754.83 Q275.81,757.01 272.85,757.95 L272.85,759.90 Q275.03,759.20 276.28,757.95 Z"/><text x="280.27" y="766">0</text><text x="288.95" y="766">3</text></g>
<g transform="translate(175.60,0) scale(0.95,1) translate(-175.60,0)"><text x="175.60" y="912">4</text><text x="184.27" y="912">8</text></g>
<g transform="translate(245.60,0) scale(0.95,1) translate(-245.60,0)"><text x="245.60" y="909">4</text><text x="254.27" y="909">9</text></g>
<g transform="translate(363.60,0) scale(0.95,1) translate(-363.60,0)"><text x="363.60" y="898">5</text><path d="M376.95,898.00 L379.22,898.00 L379.22,886.83 L377.66,886.83 Q376.49,889.01 373.52,889.95 L373.52,891.90 Q375.71,891.20 376.95,889.95 Z"/></g>
<g transform="translate(403.60,0) scale(0.95,1) translate(-403.60,0)"><text x="403.60" y="894">5</text><text x="412.27" y="894">2</text></g>
<g transform="translate(448.60,0) scale(0.95,1) translate(-448.60,0)"><text x="448.60" y="880.5">5</text><text x="457.27" y="880.5">4</text></g>
<g transform="translate(447.10,0) scale(0.95,1) translate(-447.10,0)"><text x="447.10" y="914">5</text><text x="455.77" y="914">3</text></g>
<g transform="translate(476.60,0) scale(0.95,1) translate(-476.60,0)"><text x="476.60" y="899.5">5</text><text x="485.27" y="899.5">5</text></g>
<g transform="translate(483.10,0) scale(0.95,1) translate(-483.10,0)"><text x="483.10" y="860">5</text><text x="491.77" y="860">6</text></g>
<g transform="translate(503.60,0) scale(0.95,1) translate(-503.60,0)"><text x="503.60" y="897">5</text><text x="512.27" y="897">7</text></g>
<g transform="translate(551.60,0) scale(0.95,1) translate(-551.60,0)"><text x="551.60" y="867">5</text><text x="560.27" y="867">8</text></g>
<g transform="translate(580.60,0) scale(0.95,1) translate(-580.60,0)"><text x="580.60" y="844">5</text><text x="589.27" y="844">9</text></g>
<g transform="translate(575.10,0) scale(0.95,1) translate(-575.10,0)"><text x="575.10" y="877.4">5</text><text x="583.77" y="877.4">9</text></g>
<g transform="translate(615.80,0) scale(0.95,1) translate(-615.80,0)"><text x="615.80" y="870.8">6</text><text x="624.47" y="870.8">0</text></g>
<g transform="translate(642.60,0) scale(0.95,1) translate(-642.60,0)"><text x="642.60" y="864.5">6</text><path d="M655.95,864.50 L658.22,864.50 L658.22,853.33 L656.66,853.33 Q655.49,855.51 652.52,856.45 L652.52,858.40 Q654.71,857.70 655.95,856.45 Z"/></g>
<g transform="translate(699.40,0) scale(0.95,1) translate(-699.40,0)"><text x="699.40" y="886.2">5</text><text x="708.07" y="886.2">3</text></g>
<g transform="translate(695.70,0) scale(0.95,1) translate(-695.70,0)"><text x="695.70" y="861.7">5</text><text x="704.37" y="861.7">5</text></g>
<g transform="translate(715.60,0) scale(0.95,1) translate(-715.60,0)"><text x="715.60" y="858.4">5</text><text x="724.27" y="858.4">3</text></g>
<g transform="translate(737.90,0) scale(0.95,1) translate(-737.90,0)"><text x="737.90" y="855.5">6</text><text x="746.57" y="855.5">4</text></g>
<g transform="translate(450.60,0) scale(0.95,1) translate(-450.60,0)"><text x="450.60" y="971">6</text><text x="459.27" y="971">5</text></g>
</g>
<g id="wm" opacity="0.62">
<!-- E -->
<path fill="#3462c2" d="M405,498.6 L433.4,498.6 L433.4,506.2 L412.5,506.2 L412.5,519 L431,519 L431,526.8 L412.5,526.8 L412.5,540 L433.4,540 L433.4,547.4 L405,547.4 Z"/>
<!-- M -->
<path fill="#ef6c2a" d="M439.5,547.4 L443.5,498.6 L455.7,498.6 L465.2,538 L473,498.6 L486.5,498.6 L490.5,547.4 L482.4,547.4 L478,516 L472,547.4 L458.6,547.4 L451.3,516 L448.2,547.4 Z"/>
<!-- S -->
<path fill="none" stroke="#2aa443" stroke-width="8" stroke-linejoin="round" d="M531,502.3 L507,502.3 Q502,502.3 502,507 L502,518.5 Q502,523 507,523 L522.5,523 Q527,523 527,527.5 L527,539 Q527,543.3 522.5,543.3 L499,543.3"/>
<!-- Y green crescent -->
<path fill="#2aa443" d="M533.4,459.9 Q545,459 552.3,468.9 Q558,473 562.2,472.5 Q573,471 581.1,455.4 Q583,470 573,478.8 Q566,484.5 560.4,483.5 Q550,482 540.6,469.8 Z"/>
<path fill="#2aa443" d="M550.5,480 L568.5,479.5 L568,485 L551,485.5 Z"/>
<!-- Y blue -->
<path fill="#3462c2" d="M560.4,488.7 Q573,487.8 586.5,486 Q592,484 596.4,480.6 Q593,490 586,492.5 Q578,496.8 571.2,500.4 L573,522 L566,523 L562,500 Z"/>
<!-- Y orange -->
<path fill="#ef6c2a" d="M518.1,486 Q525,480.5 533,481 Q542,481.5 548,484.5 L554,486.5 L547.8,526.6 L540.6,526.6 L545,491 Q533,484 518.1,486 Z"/>
</g>

</svg>
</body></html>
